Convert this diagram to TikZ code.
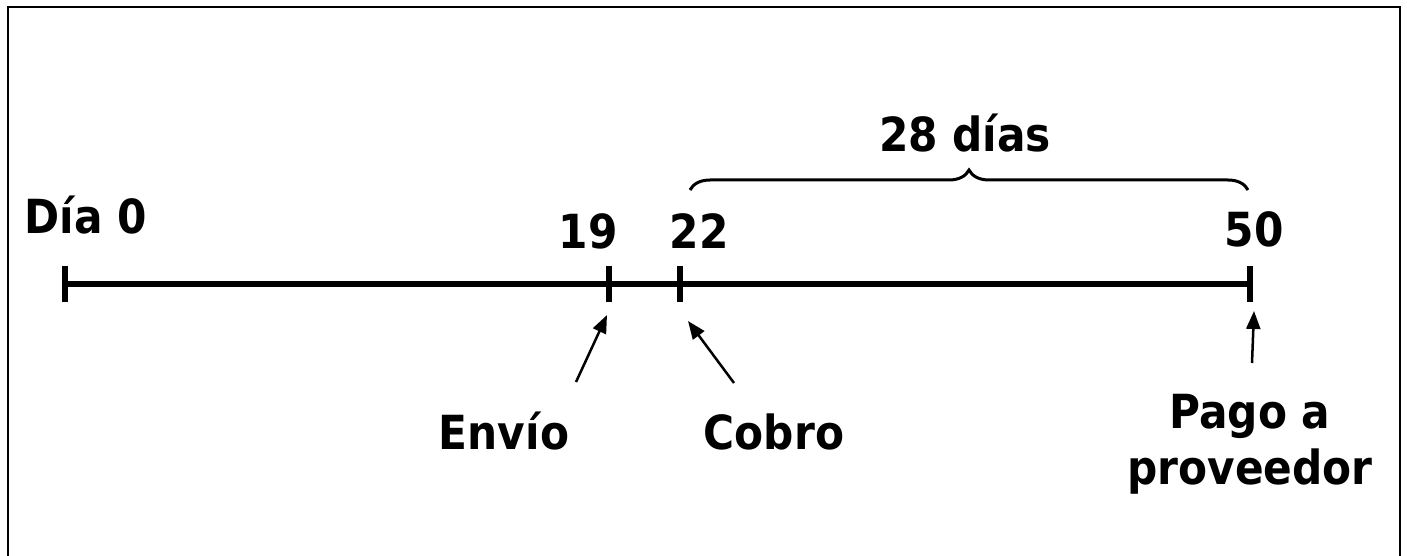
\documentclass[tikz,border=0pt]{standalone}
\usepackage{fontspec}
\setmainfont{DejaVu Sans Condensed}[BoldFont=DejaVu Sans Condensed Bold]
\usetikzlibrary{arrows.meta,decorations.pathreplacing}
\tikzset{
  lbl/.style={font=\fontsize{47}{56}\selectfont\bfseries, anchor=base, inner sep=0pt, align=center},
  axis/.style={line width=5.5pt},
  tick/.style={line width=6pt},
  pointer/.style={line width=2.5pt, -{Triangle[length=18pt,width=14pt]}},
  frame/.style={line width=2.5pt},
  span/.style={line width=3pt, decorate, decoration={brace, amplitude=20pt}}
}
\begin{document}
\begin{tikzpicture}[x=1pt, y=-1pt]
  \useasboundingbox (0,0) rectangle (1407,556);
  % outer frame (open at the bottom)
  \draw[frame] (8,560) -- (8,7) -- (1400,7) -- (1400,560);

  % timeline points
  \coordinate (d0)  at (65,284);
  \coordinate (d19) at (609,284);
  \coordinate (d22) at (680,284);
  \coordinate (d50) at (1250,284);

  \draw[axis] (d0) -- (d50);
  \foreach \p in {d0,d19,d22,d50}
    \draw[tick] ([yshift=-18pt]\p) -- ([yshift=18pt]\p);

  % day labels
  \node[lbl] (l0)  at (86,233)  {Día 0};
  \node[lbl] (l19) at (588,248) {19};
  \node[lbl] (l22) at (699,248) {22};
  \node[lbl] (l50) at (1254,246) {50};

  % brace over the 28-day span
  \coordinate (b1) at (690,190);
  \coordinate (b2) at (1248,190);
  \draw[span] (b1) -- (b2);
  \node[lbl] (l28) at (965,152) {28 días};

  % events
  \node[lbl] (envio) at (504,449) {Envío};
  \node[lbl] (cobro) at (774,449) {Cobro};
  \node[lbl] (pago)  at (1250,484) {Pago a\\proveedor};

  \coordinate (t19) at (576,382);
  \coordinate (h19) at (607,315);
  \coordinate (t22) at (734,383);
  \coordinate (h22) at (688,321);
  \coordinate (t50) at (1252,363);
  \coordinate (h50) at (1254,311);
  \draw[pointer] (t19) -- (h19);
  \draw[pointer] (t22) -- (h22);
  \draw[pointer] (t50) -- (h50);
\end{tikzpicture}
\end{document}
